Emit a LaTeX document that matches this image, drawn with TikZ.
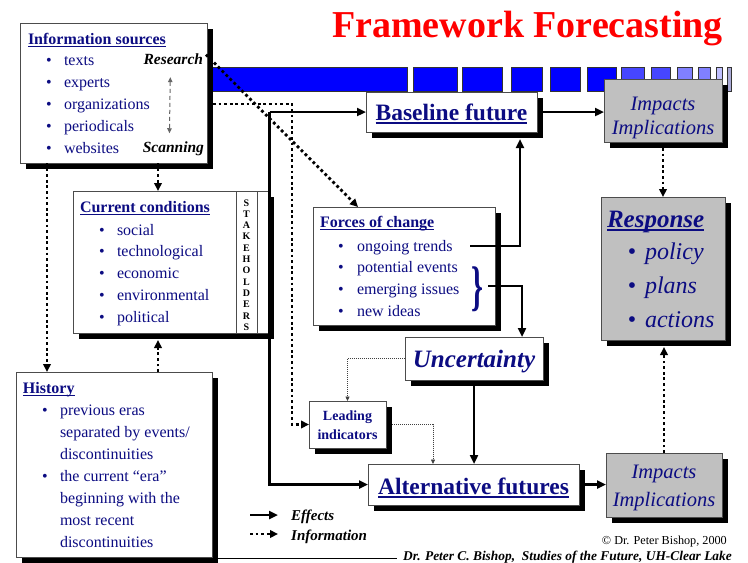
\documentclass[tikz,border=0pt]{standalone}
\usepackage{fontspec}
\usepackage{graphicx}
\setmainfont{Liberation Serif}
\usetikzlibrary{arrows.meta,shadows}
\definecolor{navy}{RGB}{12,12,130}
\definecolor{boxgray}{RGB}{192,192,192}
\definecolor{bandA}{RGB}{0,0,255}
\definecolor{bandB}{RGB}{70,70,255}
\definecolor{bandC}{RGB}{128,128,255}
\definecolor{bandD}{RGB}{192,192,255}
\definecolor{bandE}{RGB}{170,170,215}
\definecolor{titlered}{RGB}{255,0,0}
\newcommand\fsz[1]{\fontsize{#1}{#1}\selectfont}
\newcommand\ulx[1]{\setbox0\hbox{#1}\rlap{\rule[-0.17em]{\wd0}{0.075em}}\box0}
\tikzset{
 box/.style={draw=black!70, line width=0.8pt, fill=white, inner sep=0pt, outer sep=0pt, anchor=north west,
   drop shadow={shadow xshift=6pt, shadow yshift=-6pt, opacity=1, fill=black}},
 graybox/.style={box, fill=boxgray},
 tx/.style={inner sep=0pt, outer sep=0pt, text=navy, anchor=base west, font=\fsz{16}},
 bul/.style={inner sep=0pt, outer sep=0pt, text=navy, anchor=base, font=\fsz{16}},
 hd/.style={tx, font=\fsz{16}\bfseries},
 eff/.style={line width=2.6pt, -{Triangle[length=9pt,width=8pt]}},
 infoline/.style={line width=2.8pt, dash pattern=on 2.8pt off 2.8pt, -{Triangle[length=8pt,width=7.5pt]}},
 hint/.style={draw=black!75, line width=0.7pt, dash pattern=on 1pt off 1pt, -{Triangle[length=4.5pt,width=4pt]}},
 dbl/.style={draw=black!60, line width=1pt, dash pattern=on 4pt off 3pt,
   {Triangle[length=5pt,width=4.5pt]}-{Triangle[length=5pt,width=4.5pt]}},
 bandseg/.style={draw=black!80, line width=0.6pt}
}
\begin{document}
\begin{tikzpicture}[x=1pt,y=-1pt]
\useasboundingbox (0,0) rectangle (748,563);
\fill[white] (0,0) rectangle (748,563);

% title
\node[inner sep=0pt, anchor=base, text=titlered, font=\fsz{38}\bfseries] (title) at (527.5,37) {Framework Forecasting};

% blue band
\foreach \a/\b/\c in {205/407/bandA,413/457/bandA,462/502/bandA,511/542/bandA,550/580/bandA,587/616/bandA,
  621/644/bandB,651/670/bandB,677/692/bandC,698/710/bandC,716/722/bandD,727/731/bandE}
  \draw[bandseg, fill=\c] (\a,67) rectangle (\b,91);

% boxes
\node[box, minimum width=187pt, minimum height=140pt] (info) at (20,23) {};
\node[box, minimum width=195pt, minimum height=142pt] (cc) at (73,191) {};
\node[draw=black!70, line width=0.8pt, inner sep=0pt, outer sep=0pt, anchor=north west,
      minimum width=21pt, minimum height=142pt] (stk) at (236,191) {};
\node[box, minimum width=182pt, minimum height=118pt] (forces) at (313,207) {};
\node[box, minimum width=171pt, minimum height=40pt] (base) at (366,92) {};
\node[graybox, minimum width=118pt, minimum height=63pt] (imp1) at (604,79) {};
\node[graybox, minimum width=124pt, minimum height=143pt] (resp) at (601,197) {};
\node[box, minimum width=138pt, minimum height=43pt] (unc) at (405,337) {};
\node[box, minimum width=77pt, minimum height=47pt] (lead) at (309,401) {};
\node[box, minimum width=211pt, minimum height=41pt] (alt) at (368,464) {};
\node[graybox, minimum width=116pt, minimum height=64pt] (imp2) at (606,453) {};
\node[box, minimum width=196pt, minimum height=185pt] (hist) at (16,372) {};

% Information sources
\node[hd] (infoh) at (28,44) {\ulx{Information sources}};
\foreach \t [count=\i] in {texts,experts,organizations,periodicals,websites}{
  \node[bul] (info-b\i) at (49,{65+22*(\i-1)}) {•};
  \node[tx] (info-\i) at (64,{65+22*(\i-1)}) {\t};
}
\node[inner sep=0pt, outer sep=0pt, anchor=base east, font=\fsz{15.5}\bfseries\itshape] (research) at (203,64) {Research};
\node[inner sep=0pt, outer sep=0pt, anchor=base east, font=\fsz{15.5}\bfseries\itshape] (scanning) at (204,152) {Scanning};
\draw[dbl] ([xshift=-3pt,yshift=-13pt]research.south) -- ([xshift=-4pt,yshift=8pt]scanning.north);

% Current conditions
\node[hd] (cch) at (80,212) {\ulx{Current conditions}};
\foreach \t [count=\i] in {social,technological,economic,environmental,political}{
  \node[bul] (cc-b\i) at (102,{235+21.75*(\i-1)}) {•};
  \node[tx] (cc-\i) at (117,{235+21.75*(\i-1)}) {\t};
}
\foreach \l [count=\i] in {S,T,A,K,E,H,O,L,D,E,R,S}
  \node[inner sep=0pt, anchor=base, font=\fsz{10}\bfseries] (stk-\i) at (246.5,{206+11.3*(\i-1)}) {\l};

% Forces of change
\node[hd] (forh) at (320,227) {\ulx{Forces of change}};
\foreach \t [count=\i] in {ongoing trends,potential events,emerging issues,new ideas}{
  \node[bul] (f-b\i) at (341,{251+21.7*(\i-1)}) {•};
  \node[tx] (f-\i) at (357,{251+21.7*(\i-1)}) {\t};
}
\node[inner sep=0pt, outer sep=0pt, text=navy] (brace) at (477.5,289) {\scalebox{1.9}[3.4]{\fsz{16}\bfseries\}}};

% History
\node[hd] (histh) at (23,393) {\ulx{History}};
\node[bul] (h-b1) at (45,415) {•};
\node[bul] (h-b2) at (45,481) {•};
\foreach \t [count=\i] in {previous eras,separated by events/,discontinuities,the current “era”,beginning with the,most recent,discontinuities}
  \node[tx] (h-\i) at (60,{415+22*(\i-1)}) {\t};

% Baseline / Alternative / Uncertainty / Leading
\node[inner sep=0pt, anchor=base, text=navy, font=\fsz{23.5}\bfseries] (baset) at (451.5,120) {\ulx{Baseline future}};
\node[inner sep=0pt, anchor=base, text=navy, font=\fsz{23.5}\bfseries] (altt) at (473.5,494) {\ulx{Alternative futures}};
\node[inner sep=0pt, anchor=base, text=navy, font=\fsz{25}\bfseries\itshape] (unct) at (474,367) {Uncertainty};
\node[inner sep=0pt, anchor=base, text=navy, font=\fsz{14}\bfseries] (leadt1) at (347.5,420) {Leading};
\node[inner sep=0pt, anchor=base, text=navy, font=\fsz{14}\bfseries] (leadt2) at (347.5,439) {indicators};

% Impacts
\node[inner sep=0pt, anchor=base, text=navy, font=\fsz{20.5}\itshape] (imp1a) at (663,110) {Impacts};
\node[inner sep=0pt, anchor=base, text=navy, font=\fsz{20.5}\itshape] (imp1b) at (663,134) {Implications};
\node[inner sep=0pt, anchor=base, text=navy, font=\fsz{20.5}\itshape] (imp2a) at (664,478) {Impacts};
\node[inner sep=0pt, anchor=base, text=navy, font=\fsz{20.5}\itshape] (imp2b) at (664,506) {Implications};

% Response
\node[tx, font=\fsz{25}\bfseries\itshape] (resph) at (607,227) {\ulx{Response}};
\foreach \t [count=\i] in {policy,plans,actions}{
  \node[bul, font=\fsz{24}] (r-b\i) at (632,{259+34*(\i-1)}) {•};
  \node[tx, font=\fsz{24}\itshape] (r-\i) at (645,{259+34*(\i-1)}) {\t};
}

% connector helper coordinates
\coordinate (split) at (269.5,112);
\coordinate (infoOut) at (213,104);
\coordinate (infoBend) at (292,104);
\coordinate (trendsOut) at (470,246);
\coordinate (trendsUp) at (520,139);

% Effects connectors
\draw[eff] (split) -- (base.west);
\draw[eff] (split) |- (alt.west);
\draw[eff] ([xshift=6pt]base.east) -- (imp1.west |- base.east);
\draw[eff] (trendsOut) -| (trendsUp);
\draw[eff] ([xshift=5pt,yshift=3pt]brace.east) -| ([xshift=48pt]unc.north);
\draw[eff] ([yshift=-6pt]unc.south) -- (unc.south |- alt.north);
\draw[eff] ([xshift=6pt]alt.east) -- (imp2.west |- alt.east);

% Information connectors
\draw[infoline] (infoOut) -- (infoBend) |- (lead.west);
\draw[infoline] ([xshift=3pt,yshift=4pt]research.east) -- ([xshift=45pt]forces.north west);
\draw[infoline] ([xshift=27pt]info.south west) -- ([xshift=31pt]hist.north west);
\draw[infoline] ([xshift=138pt]info.south west) -- ([xshift=85pt]cc.north west);
\draw[infoline] ([xshift=142pt]hist.north west) -- ([xshift=85pt,yshift=-7pt]cc.south west);
\draw[infoline] (imp1.south) ++(0,6) -- (resp.north -| imp1.south);
\draw[infoline] (imp2.north) -- ([yshift=-7pt]resp.south -| imp2.north);

% thin hints
\draw[hint] (unc.west) -| (lead.north);
\draw[hint] ([xshift=6pt]lead.east) -| ([xshift=65pt]alt.north west);

% legend
\coordinate (lgA1) at (250,515);
\coordinate (lgA2) at (278,515);
\coordinate (lgB1) at (250,534);
\coordinate (lgB2) at (278,534);
\draw[eff] (lgA1) -- (lgA2);
\draw[infoline] (lgB1) -- (lgB2);
\node[inner sep=0pt, anchor=base west, font=\fsz{15}\bfseries\itshape] (lgEff) at (291,520) {Effects};
\node[inner sep=0pt, anchor=base west, font=\fsz{15}\bfseries\itshape] (lgInf) at (291,540) {Information};

% footer
\draw[line width=0.8pt] (218,558) -- (397,558);
\node[inner sep=0pt, anchor=base east, font=\fsz{12.2}] (copy) at (727,544) {© Dr. Peter Bishop, 2000};
\node[inner sep=0pt, anchor=base east, font=\fsz{13.4}\bfseries\itshape] (author) at (732,560) {Dr. Peter C. Bishop,\ \ Studies of the Future, UH-Clear Lake};
\end{tikzpicture}
\end{document}
